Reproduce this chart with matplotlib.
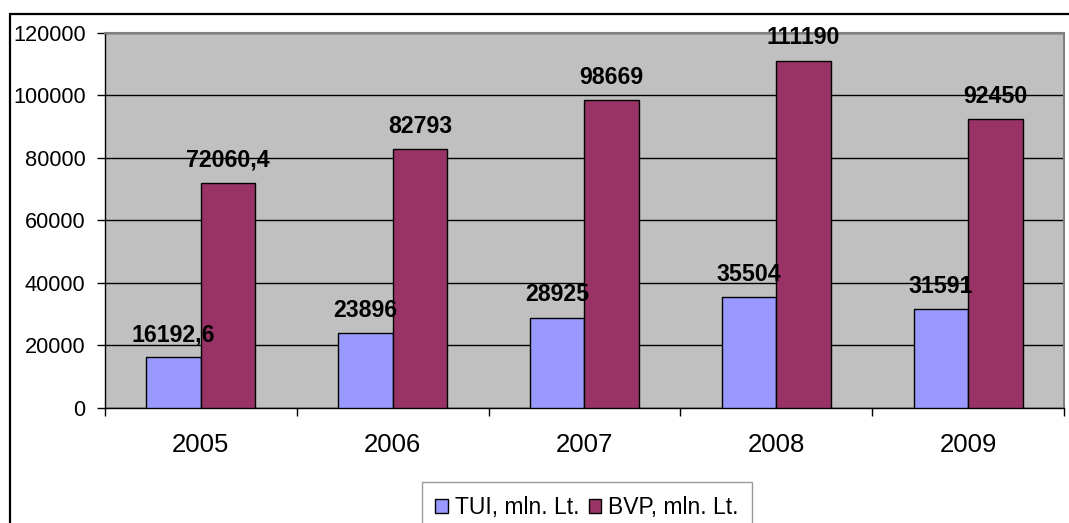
import matplotlib
matplotlib.use("Agg")
import matplotlib.pyplot as plt
from matplotlib.patches import Rectangle
import numpy as np

plt.rcParams['font.family'] = ['Liberation Sans', 'DejaVu Sans']

years = ["2005", "2006", "2007", "2008", "2009"]
tui = [16192.6, 23896, 28925, 35504, 31591]
bvp = [72060.4, 82793, 98669, 111190, 92450]
tui_labels = ["16192,6", "23896", "28925", "35504", "31591"]
bvp_labels = ["72060,4", "82793", "98669", "111190", "92450"]
y_ticks = [0, 20000, 40000, 60000, 80000, 100000, 120000]

fig = plt.figure(figsize=(10.69, 5.23), dpi=100)
ax = fig.add_axes([0.0982, 0.2199, 0.8971, 0.7170])
ax.set_facecolor("#C0C0C0")

x = np.arange(len(years))
w = 0.284
b1 = ax.bar(x - w / 2, tui, w, color="#9999FF", edgecolor="black", linewidth=1, zorder=3,
            label="TUI, mln. Lt.")
b2 = ax.bar(x + w / 2, bvp, w, color="#993366", edgecolor="black", linewidth=1, zorder=3,
            label="BVP, mln. Lt.")

for bars, labs in ((b1, tui_labels), (b2, bvp_labels)):
    for rect, lab in zip(bars, labs):
        ax.annotate(lab, (rect.get_x() + rect.get_width() / 2, rect.get_height()),
                    xytext=(0, 8), textcoords="offset points", ha="center", va="bottom",
                    fontsize=16.7, fontweight="bold", zorder=5)

ax.set_xlim(-0.5, len(years) - 0.5)
ax.set_ylim(0, 120000)
ax.set_yticks(y_ticks)
ax.set_yticklabels([str(v) for v in y_ticks], fontsize=15.7)
ax.yaxis.grid(True, color="black", linewidth=1, zorder=1)
ax.set_axisbelow(True)

ax.set_xticks(x)
ax.set_xticklabels(years, fontsize=18.5)
ax.set_xticks(np.arange(len(years) + 1) - 0.5, minor=True)
ax.tick_params(axis="x", which="major", length=0, pad=18)
ax.tick_params(axis="x", which="minor", length=6, direction="out", width=1)
ax.tick_params(axis="y", length=6, direction="out", width=1, pad=8)

for s in ("top", "right"):
    ax.spines[s].set_color("#808080")
    ax.spines[s].set_linewidth(1.5)
for s in ("left", "bottom"):
    ax.spines[s].set_color("black")
    ax.spines[s].set_linewidth(1)

leg = fig.legend(loc="upper center", bbox_to_anchor=(587 / 1069, 1 - 482 / 523), ncol=2,
                 fontsize=16.5, frameon=True, fancybox=False, edgecolor="#808080",
                 handlelength=0.55, handleheight=0.55, handletextpad=0.3, columnspacing=0.4,
                 borderpad=0.6, borderaxespad=0)
leg.get_frame().set_linewidth(1)

# outer chart frame (cut off at right and bottom)
fig.patches.append(Rectangle((10 / 1069, -0.1), 1.2, 1.1 - 14 / 523, transform=fig.transFigure,
                             fill=False, edgecolor="black", linewidth=1.6))

fig.savefig("out.png", dpi=100)
